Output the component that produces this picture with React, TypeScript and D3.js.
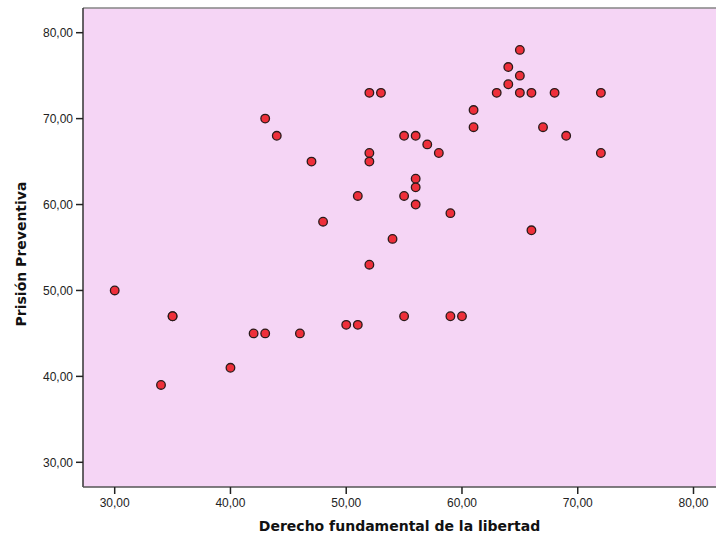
import React from "react";
import * as d3 from "d3";

const xVals = [30,34,35,35,40,42,43,43,44,46,47,48,50,51,51,52,53,52,52,52,54,55,56,57,58,55,56,56,56,55,59,59,60,61,61,63,64,64,65,65,65,66,66,67,68,69,72,72];
const yVals = [50,39,47,47,41,45,45,70,68,45,65,58,46,46,61,73,73,66,65,53,56,68,68,67,66,61,63,62,60,47,59,47,47,71,69,73,76,74,78,75,73,73,57,69,73,68,73,66];
const xTicks = [30,40,50,60,70,80];
const yTicks = [30,40,50,60,70,80];
const xTitle = "Derecho fundamental de la libertad";
const yTitle = "Prisión Preventiva";

const fmt = (v: number) => v.toFixed(2).replace(".", ",");

export default function App() {
  const W = 716, H = 539;
  const left = 83, right = 716, top = 8, bottom = 487;
  const x = d3.scaleLinear().domain([30, 80]).range([114.7, 693.5]);
  const y = d3.scaleLinear().domain([30, 80]).range([462.3, 32.7]);
  const font = "'Liberation Sans', Arial, sans-serif";
  const titleFont = "'DejaVu Sans', Verdana, sans-serif";
  return (
    <svg width={W} height={H} style={{ position: "absolute", left: 0, top: 0 }}>
      <rect x={0} y={0} width={W} height={H} fill="#ffffff" />
      <rect x={left} y={top} width={right - left} height={bottom - top} fill="#f5d5f5" />
      <line x1={left} x2={right} y1={top} y2={top} stroke="#858585" strokeWidth={1.5} />
      <line x1={left} x2={left} y1={top} y2={bottom} stroke="#333" strokeWidth={1.5} />
      <line x1={left} x2={right} y1={bottom} y2={bottom} stroke="#555" strokeWidth={1.5} />
      {yTicks.map((t) => (
        <g key={"y" + t}>
          <line x1={left - 7} x2={left} y1={y(t)} y2={y(t)} stroke="#222" strokeWidth={1.5} />
          <text x={left - 10} y={y(t)} dy="0.35em" textAnchor="end" fontFamily={font} fontSize={12} fill="#222">{fmt(t)}</text>
        </g>
      ))}
      {xTicks.map((t) => (
        <g key={"x" + t}>
          <line x1={x(t)} x2={x(t)} y1={bottom} y2={bottom + 7} stroke="#222" strokeWidth={1.5} />
          <text x={x(t)} y={bottom + 20} textAnchor="middle" fontFamily={font} fontSize={12} fill="#222">{fmt(t)}</text>
        </g>
      ))}
      {xVals.map((v, i) => (
        <circle key={i} cx={x(v)} cy={y(yVals[i])} r={4.3} fill="#ee2f3a" stroke="#2a1a1a" strokeWidth={1.3} />
      ))}
      <text x={399.5} y={531} textAnchor="middle" fontFamily={titleFont} fontSize={14} fontWeight="bold" fill="#111">{xTitle}</text>
      <text transform={`translate(26,254) rotate(-90)`} textAnchor="middle" fontFamily={titleFont} fontSize={14} fontWeight="bold" fill="#111">{yTitle}</text>
    </svg>
  );
}
